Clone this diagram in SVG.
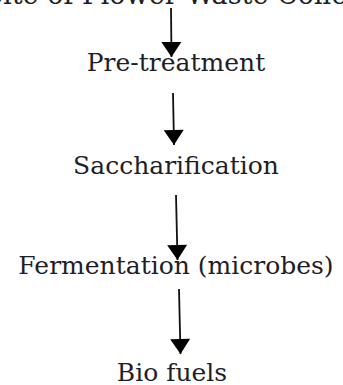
<svg xmlns="http://www.w3.org/2000/svg" width="343" height="385" viewBox="0 0 343 385">
<style>
.t{font-family:"DejaVu Serif","Liberation Serif",serif;font-size:25px;fill:#1e1e28;text-anchor:middle}
.c{stroke:#111;stroke-width:1.8;fill:none}
</style>
<defs>
<marker id="ah" markerUnits="userSpaceOnUse" markerWidth="18" markerHeight="22" refX="16" refY="10" orient="auto" viewBox="0 0 18 20">
<path d="M1,0 L16,10 L1,20 Z" fill="#000"/>
</marker>
</defs>
<rect width="343" height="385" fill="#fff"/>
<g id="n0"><text class="t" x="200" y="4" style="font-size:27px">Site of Flower Waste Collection</text></g>
<g id="n1"><text class="t" x="176" y="71">Pre-treatment</text></g>
<g id="n2"><text class="t" x="176" y="174">Saccharification</text></g>
<g id="n3"><text class="t" x="176" y="274">Fermentation (microbes)</text></g>
<g id="n4"><text class="t" x="172" y="381">Bio fuels</text></g>
<g id="connectors">
<line class="c" x1="171" y1="8" x2="171.5" y2="57" marker-end="url(#ah)"/>
<line class="c" x1="173" y1="93" x2="174" y2="145" marker-end="url(#ah)"/>
<line class="c" x1="176" y1="195" x2="177.5" y2="260" marker-end="url(#ah)"/>
<line class="c" x1="179" y1="289" x2="180.5" y2="354" marker-end="url(#ah)"/>
</g>
</svg>
